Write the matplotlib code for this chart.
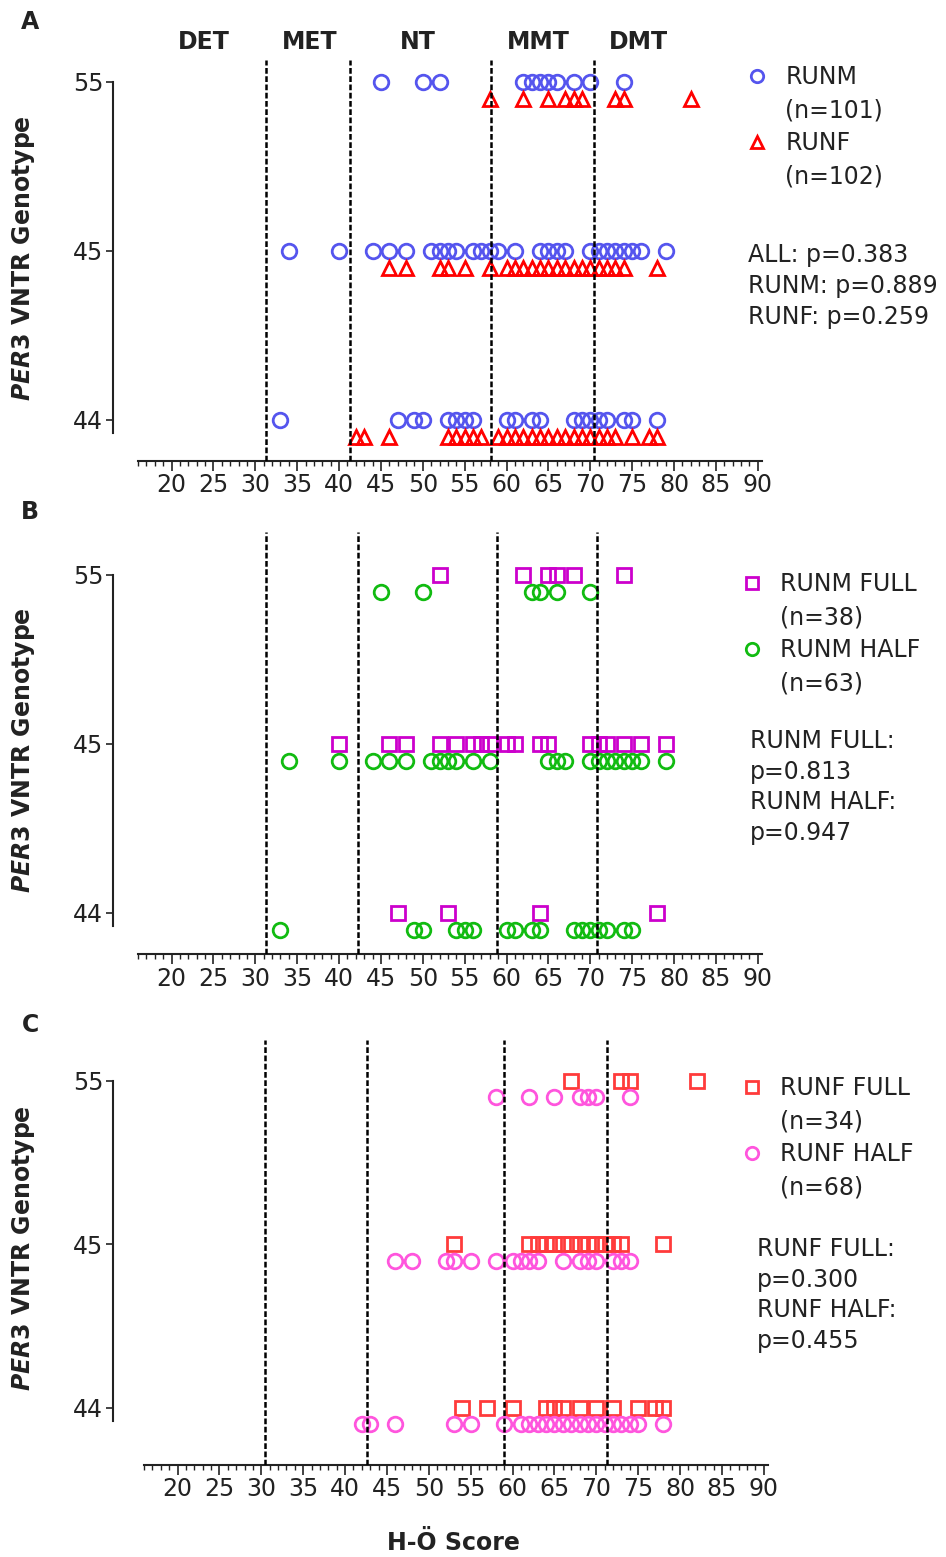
import numpy as np
import matplotlib
matplotlib.use('Agg')
import matplotlib.pyplot as plt
from matplotlib.lines import Line2D
from matplotlib.transforms import blended_transform_factory

plt.rcParams['font.family'] = ['DejaVu Sans']
plt.rcParams['mathtext.fontset'] = 'custom'
plt.rcParams['mathtext.it'] = 'DejaVu Sans:italic:bold'
plt.rcParams['mathtext.rm'] = 'DejaVu Sans:bold'

# genotype rows, bottom to top
genotypes = ['44', '45', '55']
chronotypes = ['DET', 'MET', 'NT', 'MMT', 'DMT']

# panel A: all runners
a_runm = {'55': [45, 50, 52, 62, 63, 64, 65, 66, 68, 70, 74],
          '45': [34, 40, 44, 46, 48, 51, 52, 53, 54, 56, 57, 58, 59, 61, 64, 65, 66, 67,
                 70, 71, 72, 73, 74, 75, 76, 79],
          '44': [33, 47, 49, 50, 53, 54, 55, 56, 60, 61, 63, 64, 68, 69, 70, 71, 72, 74, 75, 78]}
a_runf = {'55': [58, 62, 65, 67, 68, 69, 73, 74, 82],
          '45': [46, 48, 52, 53, 55, 58, 60, 61, 62, 63, 64, 65, 66, 67, 68, 69, 70, 71,
                 72, 73, 74, 78],
          '44': [42, 43, 46, 53, 54, 55, 56, 57, 59, 60, 61, 62, 63, 64, 65, 66, 67, 68,
                 69, 70, 71, 72, 73, 75, 77, 78]}
a_cuts = [31.3, 41.3, 58.1, 70.5]

# panel B: male runners, full vs half marathon
b_full = {'55': [52, 62, 65, 66, 68, 74],
          '45': [40, 46, 48, 52, 54, 56, 57, 58, 60, 61, 64, 65, 70, 71, 72, 74, 76, 79],
          '44': [47, 53, 64, 78]}
b_half = {'55': [45, 50, 63, 64, 66, 70],
          '45': [34, 40, 44, 46, 48, 51, 52, 53, 54, 56, 58, 65, 66, 67, 70, 71, 72, 73,
                 74, 75, 76, 79],
          '44': [33, 49, 50, 54, 55, 56, 60, 61, 63, 64, 68, 69, 70, 71, 72, 74, 75]}
b_cuts = [31.3, 42.3, 58.9, 70.8]

# panel C: female runners, full vs half marathon
c_full = {'55': [67, 73, 74, 82],
          '45': [53, 62, 63, 64, 65, 66, 67, 68, 69, 70, 71, 72, 73, 78],
          '44': [54, 57, 60, 64, 65, 66, 68, 70, 72, 75, 77, 78]}
c_half = {'55': [58, 62, 65, 68, 69, 70, 74],
          '45': [46, 48, 52, 53, 55, 58, 60, 61, 62, 63, 66, 68, 69, 70, 72, 73, 74],
          '44': [42, 43, 46, 53, 55, 59, 61, 62, 63, 64, 65, 66, 67, 68, 69, 70, 71, 72,
                 73, 74, 75, 78]}
c_cuts = [30.4, 42.6, 59.0, 71.3]

W, H = 946, 1557
fig = plt.figure(figsize=(W / 100, H / 100), dpi=100)
FS = 17
TXT = '#222222'


def px_axes(left, top, right, bottom):
    return fig.add_axes([left / W, 1 - bottom / H, (right - left) / W, (bottom - top) / H])


def draw_series(ax, data, off, marker, color, label):
    xs, ys = [], []
    for i, g in enumerate(genotypes):
        xs += data[g]
        ys += [i + off] * len(data[g])
    h, = ax.plot(xs, ys, ls='none', marker=marker, mfc='none', mec=color, ms=10.5,
                 mew=2.0, zorder=2, clip_on=False, label=label)
    return h


def style_axes(ax, cuts, ylim, spine_off):
    ax.set_xlim(16, 90.5)
    ax.set_ylim(*ylim)
    for c in cuts:
        ax.axvline(c, color='black', lw=1.8, ls=(0, (2.3, 1.0)), zorder=3)
    ax.spines['top'].set_visible(False)
    ax.spines['right'].set_visible(False)
    ax.spines['left'].set_position(('outward', spine_off * 0.72))
    ax.spines['left'].set_bounds(-0.08, 2)
    for s in ['left', 'bottom']:
        ax.spines[s].set_linewidth(1.5)
        ax.spines[s].set_color(TXT)
    ax.set_xticks(np.arange(20, 91, 5))
    ax.set_xticks(np.arange(16, 91, 1), minor=True)
    ax.set_yticks(range(len(genotypes)))
    ax.set_yticklabels(genotypes)
    ax.tick_params(axis='x', which='major', length=7, width=1.2, labelsize=FS, pad=2,
                   colors=TXT)
    ax.tick_params(axis='x', which='minor', length=3.5, width=1, colors=TXT)
    ax.tick_params(axis='y', length=5, width=1.2, labelsize=FS, pad=2, colors=TXT)
    ax.patch.set_visible(False)


def legend(ax, handles, labels, x, y):
    blank = Line2D([], [], ls='none')
    hs = [handles[0], blank, handles[1], blank]
    leg = ax.legend(hs, labels, loc='upper left', bbox_to_anchor=(x / W, 1 - y / H),
                    bbox_transform=fig.transFigure, frameon=False, fontsize=FS,
                    handlelength=1.0, handletextpad=0.7, labelspacing=0.39,
                    borderpad=0, borderaxespad=0, markerscale=0.85)
    for t in leg.get_texts():
        t.set_color(TXT)


# ---- panel A
axA = px_axes(138, 60, 762, 461)
hA1 = draw_series(axA, a_runm, 0, 'o', '#5555ee', 'RUNM')
hA2 = draw_series(axA, a_runf, -0.1, '^', '#ff0000', 'RUNF')
style_axes(axA, a_cuts, (-0.243, 2.13), 25)
legend(axA, [hA1, hA2], ['RUNM', '(n=101)', 'RUNF', '(n=102)'], 745, 65)
fig.text(748 / W, 1 - 243 / H, 'ALL: p=0.383\nRUNM: p=0.889\nRUNF: p=0.259',
         fontsize=FS, va='top', ha='left', linespacing=1.38, color=TXT)
name_tr = blended_transform_factory(axA.transData, fig.transFigure)
for name, xc in zip(chronotypes, [23.9, 36.5, 49.4, 63.8, 75.8]):
    axA.text(xc, 1 - 42 / H, name, transform=name_tr, fontsize=FS, fontweight='bold',
             ha='center', va='center', color=TXT)

# ---- panel B
axB = px_axes(138, 532, 762, 954)
hB1 = draw_series(axB, b_full, 0, 's', '#cc00cc', 'RUNM FULL')
hB2 = draw_series(axB, b_half, -0.1, 'o', '#11bb11', 'RUNM HALF')
style_axes(axB, b_cuts, (-0.243, 2.254), 25)
legend(axB, [hB1, hB2], ['RUNM FULL', '(n=38)', 'RUNM HALF', '(n=63)'], 740, 572)
fig.text(750 / W, 1 - 729 / H, 'RUNM FULL:\np=0.813\nRUNM HALF:\np=0.947',
         fontsize=FS, va='top', ha='left', linespacing=1.35, color=TXT)

# ---- panel C
axC = px_axes(144, 1040, 768, 1465)
hC1 = draw_series(axC, c_full, 0, 's', '#ff3b3b', 'RUNF FULL')
hC2 = draw_series(axC, c_half, -0.1, 'o', '#ff55dd', 'RUNF HALF')
style_axes(axC, c_cuts, (-0.349, 2.25), 31)
legend(axC, [hC1, hC2], ['RUNF FULL', '(n=34)', 'RUNF HALF', '(n=68)'], 740, 1076)
fig.text(757 / W, 1 - 1237 / H, 'RUNF FULL:\np=0.300\nRUNF HALF:\np=0.455',
         fontsize=FS, va='top', ha='left', linespacing=1.35, color=TXT)

# panel letters and y labels
for letter, ly, cy in [('A', 22, 258), ('B', 512, 750), ('C', 1025, 1248)]:
    fig.text(30 / W, 1 - ly / H, letter, fontsize=FS, fontweight='bold', ha='center',
             va='center', color=TXT)
    fig.text(24 / W, 1 - cy / H, r'$\mathit{PER3}$ VNTR Genotype', rotation=90,
             fontsize=FS, fontweight='bold', ha='center', va='center', color=TXT)

fig.text(453 / W, 1 - 1543 / H, 'H-Ö Score', fontsize=FS, fontweight='bold',
         ha='center', va='center', color=TXT)

fig.savefig('out.png', dpi=100)
